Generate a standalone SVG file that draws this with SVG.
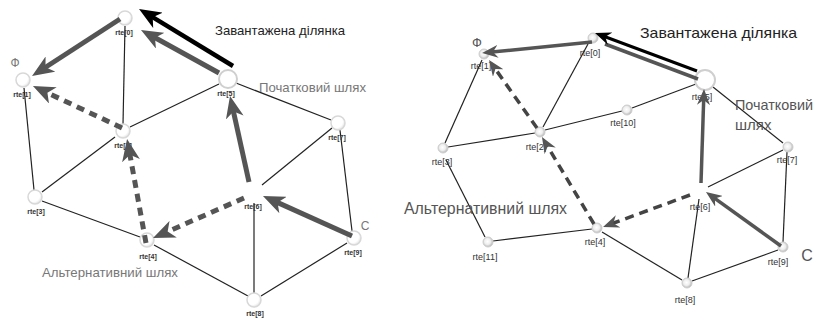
<svg xmlns="http://www.w3.org/2000/svg" width="819" height="321" viewBox="0 0 819 321">
<style>
.bg{fill:#fff}
.e{stroke:#222;stroke-width:1.2;fill:none}
.p{stroke:#555;stroke-width:5;fill:none;stroke-linecap:butt}
.pr{stroke:#555;stroke-width:3.5;fill:none}
.d{stroke:#555;stroke-width:5;fill:none;stroke-dasharray:8 6}
.dr{stroke:#444;stroke-width:3.5;fill:none;stroke-dasharray:9 6}
.k{stroke:#000;stroke-width:4.5;fill:none}
.kr{stroke:#000;stroke-width:3;fill:none}
.nl{fill:url(#gl);stroke:#d8d8d8;stroke-width:1.5}
.nr{fill:url(#gr);stroke:#cfcfcf;stroke-width:1}
.big{fill:#fff;stroke:#cfcfcf;stroke-width:2}
.ll{font-family:"Liberation Sans",Arial,sans-serif;font-size:7px;font-weight:bold;fill:#333;text-anchor:middle}
.lr{font-family:"Liberation Sans",Arial,sans-serif;font-size:9px;fill:#333;text-anchor:middle}
.t{font-family:"Liberation Sans",Arial,sans-serif;fill:#777}
</style>
<defs>
<radialGradient id="gl" cx="0.4" cy="0.4" r="0.6"><stop offset="0" stop-color="#fff"/><stop offset="0.7" stop-color="#fff"/><stop offset="1" stop-color="#e6e6e6"/></radialGradient>
<radialGradient id="gr" cx="0.45" cy="0.45" r="0.6"><stop offset="0" stop-color="#fff"/><stop offset="0.5" stop-color="#eee"/><stop offset="1" stop-color="#aaa"/></radialGradient>
<marker id="hg" viewBox="0 0 22 18" refX="10" refY="9" markerWidth="22" markerHeight="18" orient="auto" markerUnits="userSpaceOnUse"><path d="M0,0 L22,9 L0,18 L6,9 z" fill="#555"/></marker>
<marker id="hk" viewBox="0 0 22 18" refX="10" refY="9" markerWidth="22" markerHeight="18" orient="auto" markerUnits="userSpaceOnUse"><path d="M0,0 L22,9 L0,18 L6,9 z" fill="#000"/></marker>
<marker id="sg" viewBox="0 0 16 13" refX="6" refY="6.5" markerWidth="16" markerHeight="13" orient="auto" markerUnits="userSpaceOnUse"><path d="M0,0 L16,6.5 L0,13 L5,6.5 z" fill="#555"/></marker>
<marker id="sk" viewBox="0 0 16 13" refX="6" refY="6.5" markerWidth="16" markerHeight="13" orient="auto" markerUnits="userSpaceOnUse"><path d="M0,0 L16,6.5 L0,13 L5,6.5 z" fill="#000"/></marker>
</defs>
<rect class="bg" width="819" height="321"/>

<g id="connectors">
<line class="e" x1="125" y1="26" x2="123" y2="124" stroke="#555"/>
<line class="e" x1="130" y1="127" x2="219" y2="84"/>
<line class="e" x1="236" y1="83" x2="331" y2="120"/>
<line class="e" x1="24" y1="88" x2="34" y2="190"/>
<line class="e" x1="42" y1="192" x2="115" y2="137"/>
<line class="e" x1="42" y1="201" x2="140" y2="237"/>
<line class="e" x1="154" y1="245" x2="248" y2="296"/>
<line class="e" x1="254" y1="203" x2="254" y2="293"/>
<line class="e" x1="261" y1="296" x2="347" y2="243"/>
<line class="e" x1="352" y1="231" x2="340" y2="130"/>
<line class="e" x1="262" y1="185" x2="332" y2="128"/>
<line class="e" x1="482" y1="60" x2="445" y2="143"/>
<line class="e" x1="588" y1="44" x2="543" y2="127"/>
<line class="e" x1="448" y1="147" x2="535" y2="133"/>
<line class="e" x1="545" y1="130" x2="622" y2="111"/>
<line class="e" x1="632" y1="108" x2="696" y2="84"/>
<line class="e" x1="713" y1="87" x2="783" y2="143"/>
<line class="e" x1="446" y1="160" x2="485" y2="237"/>
<line class="e" x1="493" y1="241" x2="592" y2="229"/>
<line class="e" x1="602" y1="232" x2="682" y2="280"/>
<line class="e" x1="688" y1="278" x2="699" y2="199"/>
<line class="e" x1="692" y1="281" x2="778" y2="250"/>
<line class="e" x1="783" y1="242" x2="787" y2="152"/>
<line class="e" x1="708" y1="187" x2="783" y2="150"/>
</g>

<g id="n-l0"><circle class="nl" cx="125" cy="18" r="7"/><text class="ll" x="124" y="35">rte[0]</text></g>
<g id="n-l1"><circle class="nl" cx="23" cy="80" r="7"/><text class="ll" x="22" y="97">rte[1]</text></g>
<g id="n-l2"><circle class="nl" cx="123" cy="131" r="7"/><text class="ll" x="123" y="148">rte[2]</text></g>
<g id="n-l3"><circle class="nl" cx="35" cy="197" r="7"/><text class="ll" x="36" y="214">rte[3]</text></g>
<g id="n-l4"><circle class="nl" cx="147" cy="240" r="7"/><text class="ll" x="148" y="259">rte[4]</text></g>
<g id="n-l5"><circle class="big" cx="228" cy="79" r="9"/><text class="ll" x="226" y="96">rte[5]</text></g>
<g id="n-l6"><circle cx="253" cy="190" r="7" fill="#fff"/><text class="ll" x="253" y="209">rte[6]</text></g>
<g id="n-l7"><circle class="nl" cx="338" cy="123" r="7"/><text class="ll" x="337" y="140">rte[7]</text></g>
<g id="n-l8"><circle class="nl" cx="254" cy="300" r="7"/><text class="ll" x="255" y="316">rte[8]</text></g>
<g id="n-l9"><circle class="nl" cx="354" cy="238" r="7"/><text class="ll" x="353" y="255">rte[9]</text></g>

<g id="n-r0"><circle class="nr" cx="593" cy="38" r="5"/><text class="lr" x="590" y="56">rte[0]</text></g>
<g id="n-r1"><circle class="nr" cx="484" cy="54" r="5"/><text class="lr" x="481" y="69">rte[1]</text></g>
<g id="n-r2"><circle class="nr" cx="540" cy="132" r="5"/><text class="lr" x="536" y="150">rte[2]</text></g>
<g id="n-r3"><circle class="nr" cx="443" cy="148" r="5"/><text class="lr" x="442" y="165">rte[3]</text></g>
<g id="n-r4"><circle class="nr" cx="597" cy="228" r="5"/><text class="lr" x="595" y="245">rte[4]</text></g>
<g id="n-r5"><circle class="big" cx="705" cy="80" r="10"/><text class="lr" x="702" y="100">rte[5]</text></g>
<g id="n-r6"><circle cx="700" cy="192" r="5" fill="#fff"/><text class="lr" x="700" y="210">rte[6]</text></g>
<g id="n-r7"><circle class="nr" cx="788" cy="147" r="5"/><text class="lr" x="787" y="163">rte[7]</text></g>
<g id="n-r8"><circle class="nr" cx="687" cy="283" r="5"/><text class="lr" x="685" y="303">rte[8]</text></g>
<g id="n-r9"><circle class="nr" cx="783" cy="247" r="5"/><text class="lr" x="778" y="265">rte[9]</text></g>
<g id="n-r10"><circle class="nr" cx="627" cy="110" r="5"/><text class="lr" x="623" y="126">rte[10]</text></g>
<g id="n-r11"><circle class="nr" cx="488" cy="242" r="5"/><text class="lr" x="485" y="260">rte[11]</text></g>

<g id="route-arrows">
<line class="p" x1="352" y1="236" x2="273.9" y2="200.9" marker-end="url(#hg)"/>
<line class="p" x1="249" y1="182" x2="232.6" y2="107.7" marker-end="url(#hg)"/>
<line class="p" x1="219" y1="73" x2="151.5" y2="35.8" marker-end="url(#hg)"/>
<line class="k" x1="233" y1="66" x2="149.3" y2="15.2" marker-end="url(#hk)"/>
<line class="p" x1="120" y1="19" x2="42.1" y2="69.5" marker-end="url(#hg)"/>
<line class="d" x1="122" y1="128" x2="43.8" y2="91.1" marker-end="url(#hg)"/>
<line class="d" x1="146" y1="243" x2="129.2" y2="150.8" marker-end="url(#hg)"/>
<line class="d" x1="244" y1="198" x2="164" y2="233.2" marker-end="url(#hg)"/>
<line class="pr" x1="781" y1="246" x2="714.1" y2="197.8" marker-end="url(#sg)"/>
<line class="pr" x1="701" y1="183" x2="703.7" y2="99" marker-end="url(#sg)"/>
<line class="pr" x1="698" y1="79" x2="605" y2="44"/>
<line class="kr" x1="697" y1="71" x2="604.4" y2="36.5" marker-end="url(#sk)"/>
<line class="pr" x1="592" y1="42" x2="492" y2="52" marker-end="url(#sg)"/>
<line class="dr" x1="537" y1="128" x2="494.8" y2="68.2" marker-end="url(#sg)"/>
<line class="dr" x1="594" y1="224" x2="547.1" y2="145.6" marker-end="url(#sg)"/>
<line class="dr" x1="690" y1="195" x2="612.4" y2="223.5" marker-end="url(#sg)"/>
</g>

<g id="labels">
<text class="t" x="15" y="67" font-size="12" text-anchor="middle">Ф</text>
<text class="t" x="365" y="230" font-size="12" text-anchor="middle">C</text>
<text class="t" x="215" y="35" font-size="13" style="fill:#222" textLength="130" lengthAdjust="spacingAndGlyphs">Завантажена ділянка</text>
<text class="t" x="259" y="92" font-size="13" textLength="107" lengthAdjust="spacingAndGlyphs">Початковий шлях</text>
<text class="t" x="42" y="277" font-size="13" textLength="136" lengthAdjust="spacingAndGlyphs">Альтернативний шлях</text>
<text class="t" x="477" y="47" font-size="13" text-anchor="middle" style="fill:#555">Ф</text>
<text class="t" x="807" y="261" font-size="16" text-anchor="middle" style="fill:#555">C</text>
<text class="t" x="640" y="38" font-size="15" style="fill:#222" textLength="157" lengthAdjust="spacingAndGlyphs">Завантажена ділянка</text>
<text class="t" x="735" y="110" font-size="15" style="fill:#555" textLength="78" lengthAdjust="spacingAndGlyphs">Початковий</text>
<text class="t" x="735" y="130" font-size="15" style="fill:#555">шлях</text>
<text class="t" x="404" y="214" font-size="16" style="fill:#555" textLength="163" lengthAdjust="spacingAndGlyphs">Альтернативний шлях</text>
</g>
</svg>
